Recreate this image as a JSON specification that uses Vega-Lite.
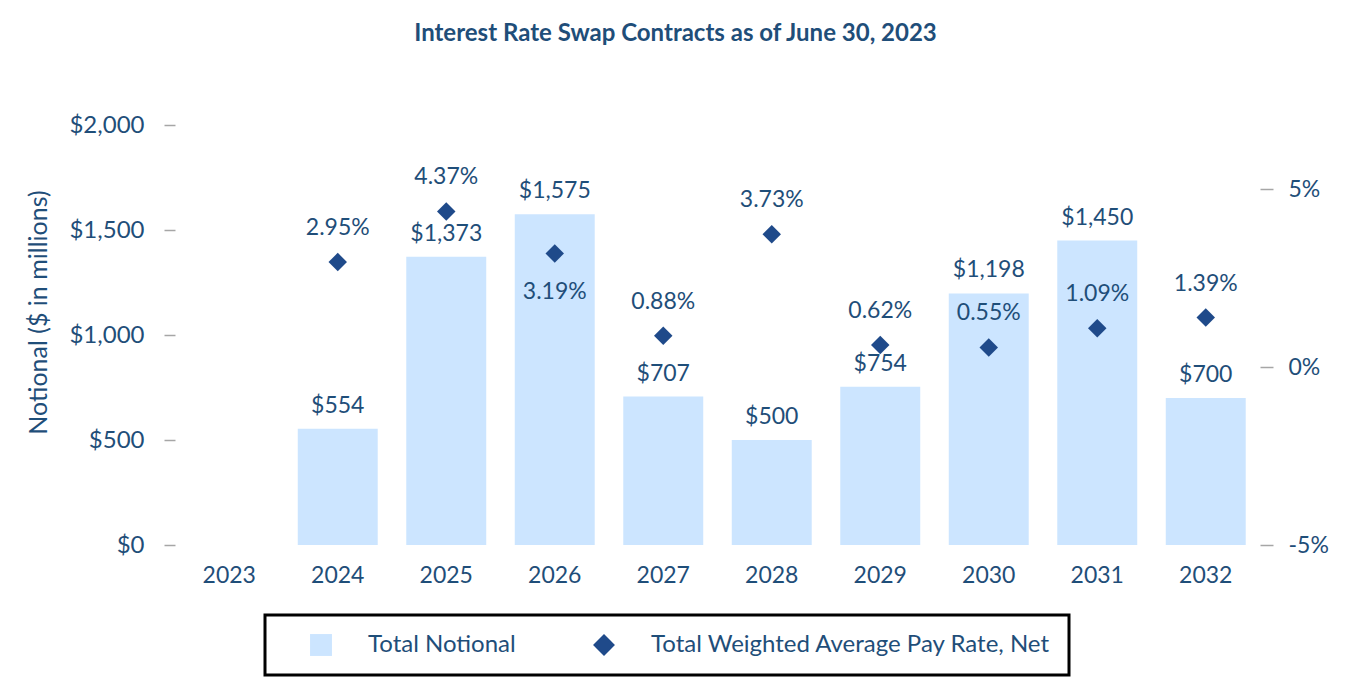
{
  "$schema": "https://vega.github.io/schema/vega-lite/v6.json",
  "width": 1085,
  "height": 420,
  "autosize": {"type": "none"},
  "padding": {"left": 175, "top": 125, "right": 90, "bottom": 145},
  "background": "white",
  "config": {
    "font": "Lato",
    "view": {"stroke": null},
    "legend": {"strokeWidth": 3}
  },
  "title": {
    "text": "Interest Rate Swap Contracts as of June 30, 2023",
    "font": "Lato",
    "fontSize": 24,
    "fontWeight": "bold",
    "color": "#1F4E79",
    "anchor": "middle",
    "dx": -42,
    "offset": 67
  },
  "data": {
    "values": [
      {"year": "2023", "notional": null, "rate": null},
      {"year": "2024", "notional": 554, "rate": 2.95},
      {"year": "2025", "notional": 1373, "rate": 4.37},
      {"year": "2026", "notional": 1575, "rate": 3.19},
      {"year": "2027", "notional": 707, "rate": 0.88},
      {"year": "2028", "notional": 500, "rate": 3.73},
      {"year": "2029", "notional": 754, "rate": 0.62},
      {"year": "2030", "notional": 1198, "rate": 0.55},
      {"year": "2031", "notional": 1450, "rate": 1.09},
      {"year": "2032", "notional": 700, "rate": 1.39}
    ]
  },
  "encoding": {
    "x": {
      "field": "year",
      "type": "ordinal",
      "scale": {"domain": ["2023","2024","2025","2026","2027","2028","2029","2030","2031","2032"], "paddingInner": 0.263},
      "axis": {"title": null, "labelAngle": 0, "ticks": false, "domain": false, "labelFontSize": 23, "labelColor": "#1F4E79", "labelPadding": 19, "labelFont": "Lato"}
    }
  },
  "layer": [
    {
      "layer": [
        {
          "transform": [{"filter": "datum.notional != null"}],
          "mark": {"type": "bar", "color": "#CCE5FF"},
          "encoding": {
            "y": {
              "field": "notional",
              "type": "quantitative",
              "scale": {"domain": [0, 2000], "nice": false},
              "axis": {
                "title": "Notional ($ in millions)",
                "titleFontSize": 25,
                "titleFontWeight": "normal",
                "titleColor": "#1F4E79",
                "titlePadding": 17,
                "titleY": 187,
                "values": [0, 500, 1000, 1500, 2000],
                "format": "$,.0f",
                "labelFontSize": 24,
                "labelColor": "#1F4E79",
                "labelPadding": 20,
                "tickSize": 11,
                "tickColor": "#A6A6A6",
                "tickWidth": 1.5,
                "domain": false,
                "grid": false
              }
            }
          }
        },
        {
          "transform": [{"filter": "datum.notional != null"}],
          "mark": {"type": "text", "dy": -23, "baseline": "middle", "fontSize": 23, "color": "#1F4E79"},
          "encoding": {
            "y": {"field": "notional", "type": "quantitative"},
            "text": {"field": "notional", "type": "quantitative", "format": "$,.0f"}
          }
        }
      ]
    },
    {
      "layer": [
        {
          "transform": [{"filter": "datum.rate != null"}],
          "mark": {"type": "point", "filled": true, "opacity": 1, "size": 340},
          "encoding": {
            "y": {
              "field": "rate",
              "type": "quantitative",
              "scale": {"domain": [-5, 6.8], "nice": false},
              "axis": {
                "orient": "right",
                "title": null,
                "values": [-5, 0, 5],
                "labelExpr": "datum.value + '%'",
                "labelFontSize": 23,
                "labelColor": "#1F4E79",
                "labelPadding": 15,
                "tickSize": 13,
                "tickColor": "#A6A6A6",
                "tickWidth": 1.5,
                "domain": false,
                "grid": false
              }
            },
            "color": {
              "datum": "Total Weighted Average Pay Rate, Net",
              "scale": {"domain": ["Total Notional", "Total Weighted Average Pay Rate, Net"], "range": ["#CCE5FF", "#1F4A8A"]},
              "legend": {
                "title": null,
                "orient": "none",
                "direction": "horizontal",
                "legendX": 90,
                "legendY": 490,
                "strokeColor": "black",
                "padding": 18,
                "symbolOffset": 26,
                "symbolSize": 480,
                "symbolStrokeWidth": 0,
                "labelFontSize": 24,
                "labelLimit": 0,
                "labelColor": "#1F4E79",
                "labelOffset": 35,
                "columnPadding": 50,
                "labelFont": "Lato"
              }
            },
            "shape": {
              "datum": "Total Weighted Average Pay Rate, Net",
              "scale": {"domain": ["Total Notional", "Total Weighted Average Pay Rate, Net"], "range": ["square", "diamond"]},
              "legend": {
                "title": null,
                "orient": "none",
                "direction": "horizontal",
                "legendX": 90,
                "legendY": 490
              }
            }
          }
        },
        {
          "transform": [
            {"filter": "datum.rate != null && datum.year != '2026'"},
            {"calculate": "format(datum.rate, '.2f') + '%'", "as": "rateLabel"}
          ],
          "mark": {"type": "text", "dy": -34, "baseline": "middle", "fontSize": 23, "color": "#1F4E79"},
          "encoding": {
            "y": {"field": "rate", "type": "quantitative"},
            "text": {"field": "rateLabel", "type": "nominal"}
          }
        },
        {
          "transform": [
            {"filter": "datum.year == '2026'"},
            {"calculate": "format(datum.rate, '.2f') + '%'", "as": "rateLabel"}
          ],
          "mark": {"type": "text", "dy": 39, "baseline": "middle", "fontSize": 23, "color": "#1F4E79"},
          "encoding": {
            "y": {"field": "rate", "type": "quantitative"},
            "text": {"field": "rateLabel", "type": "nominal"}
          }
        }
      ]
    }
  ],
  "resolve": {"scale": {"y": "independent"}}
}
